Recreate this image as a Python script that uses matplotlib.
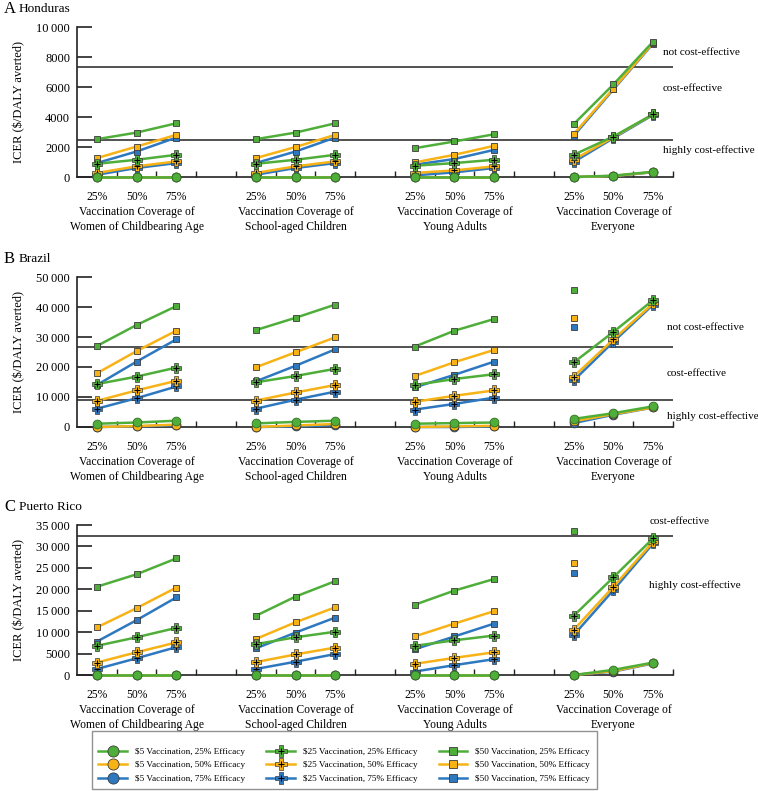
import numpy as np
import matplotlib
matplotlib.use("Agg")
import matplotlib.pyplot as plt
from matplotlib.lines import Line2D
from matplotlib.legend_handler import HandlerTuple
from matplotlib.ticker import FuncFormatter

nan = np.nan

groups = [("Vaccination Coverage of", "Women of Childbearing Age"),
          ("Vaccination Coverage of", "School-aged Children"),
          ("Vaccination Coverage of", "Young Adults"),
          ("Vaccination Coverage of", "Everyone")]
coverage = ["25%", "50%", "75%"]
costs = [5, 25, 50]
efficacies = [25, 50, 75]

# ICER values, 12 per series: 4 groups x (25%, 50%, 75% coverage)
hn_5 = {25: [0, 0, 0, 0, 0, 0, 0, 0, 0, 0, 90, 350],
        50: [0, 0, 0, 0, 0, 0, 0, 0, 0, 0, 70, 330],
        75: [0, 0, 0, 0, 0, 0, 0, 0, 0, 0, 60, 320]}
hn_25 = {25: [880, 1150, 1480, 880, 1150, 1480, 750, 930, 1150, 1480, 2700, 4180],
         50: [270, 710, 1040, 270, 710, 1040, 270, 440, 710, 1150, 2650, 4180],
         75: [150, 600, 930, 150, 600, 930, 110, 310, 600, 1000, 2590, 4140]}
hn_50 = {25: [2520, 2960, 3580, 2520, 2960, 3580, 1920, 2370, 2850, 3520, 6170, 9030],
         50: [1260, 2030, 2810, 1260, 2000, 2810, 970, 1480, 2080, 2850, 5900, 8940],
         75: [930, 1700, 2630, 930, 1700, 2630, 820, 1200, 1810, 2740, 5840, 8900]}

br_5 = {25: [1100, 1500, 2100, 1200, 1700, 2100, 1100, 1300, 1500, 2700, 4600, 6900],
        50: [0, 300, 800, 0, 500, 1000, 0, 200, 400, 1900, 4300, 6500],
        75: [0, 200, 600, 0, 200, 600, 0, 0, 200, 1300, 4100, 6500]}
br_25 = {25: [14300, 16800, 19800, 14900, 17000, 19400, 14000, 16000, 17600, 21500, 31700, 42300],
         50: [8700, 12200, 15400, 8800, 11500, 14000, 8400, 10400, 12200, 16800, 29200, 41200],
         75: [6100, 9600, 13500, 6100, 9100, 11800, 5800, 7700, 9800, 15500, 28400, 40800]}
br_50 = {25: [27000, 34000, 40300, 32300, 36400, 40800, 26800, 32100, 36000, 45600, nan, nan],
         50: [17900, 25300, 32100, 19900, 24900, 29900, 17000, 21600, 25700, 36500, nan, nan],
         75: [14000, 21800, 29200, 15200, 20400, 25900, 13200, 17400, 21800, 33200, nan, nan]}

pr_5 = {25: [0, 0, 0, 0, 0, 0, 0, 0, 0, 0, 1200, 2900],
        50: [0, 0, 0, 0, 0, 0, 0, 0, 0, 0, 900, 2800],
        75: [0, 0, 0, 0, 0, 0, 0, 0, 0, 0, 800, 2700]}
pr_25 = {25: [6800, 8800, 11000, 7200, 8800, 10100, 6800, 8100, 9200, 13800, 22800, 31900],
         50: [2900, 5300, 7600, 3000, 4800, 6400, 2600, 4000, 5300, 10500, 20600, 31100],
         75: [1400, 3900, 6500, 1400, 3100, 4900, 800, 2300, 3700, 9300, 19800, 30700]}
pr_50 = {25: [20600, 23500, 27200, 13800, 18300, 21900, 16400, 19700, 22400, 33700, nan, nan],
         50: [11100, 15600, 20400, 8400, 12300, 15800, 9000, 12000, 14900, 26200, nan, nan],
         75: [7800, 12800, 18100, 6200, 9900, 13400, 6000, 9000, 12000, 23900, nan, nan]}

hn_thresholds = [2450, 7350]
br_thresholds = [8850, 26550]
pr_thresholds = [32400]

countries = [
    ("A", "Honduras", {5: hn_5, 25: hn_25, 50: hn_50}, hn_thresholds, 10000, 2000,
     [("not cost-effective", 8270), ("cost-effective", 5930), ("highly cost-effective", 1800)], 14.75),
    ("B", "Brazil", {5: br_5, 25: br_25, 50: br_50}, br_thresholds, 50000, 10000,
     [("not cost-effective", 33000), ("cost-effective", 17700), ("highly cost-effective", 3700)], 14.85),
    ("C", "Puerto Rico", {5: pr_5, 25: pr_25, 50: pr_50}, pr_thresholds, 35000, 5000,
     [("cost-effective", 35700), ("highly cost-effective", 21000)], 14.4),
]

eff_colors = {25: "#4fae3a", 50: "#f7b316", 75: "#2e78c0"}
edge = "#3a3a3a"

plt.rcParams["font.family"] = ["Liberation Serif", "DejaVu Serif"]

W, H = 758, 791
fig = plt.figure(figsize=(W / 100, H / 100), dpi=100)

def fmt(v, pos):
    v = int(round(v))
    if v >= 10000:
        return f"{v:,}".replace(",", "\u2009")
    return str(v)

# axes boxes in pixels: (top, bottom)
boxes = [(27, 177), (277, 427), (525, 675)]
title_y = [9, 259, 507]
ax_left, ax_right = 77, 673

xs = np.array([[g * 4 + 0.5 + k for k in range(3)] for g in range(4)])

for (letter, name, data, thresholds, ymax, ystep, zones, zx), (top, bot), ty in zip(countries, boxes, title_y):
    ax = fig.add_axes([ax_left / W, 1 - bot / H, (ax_right - ax_left) / W, (bot - top) / H])
    ax.set_xlim(0, 15)
    ax.set_ylim(0, ymax)
    for s in ["top", "right"]:
        ax.spines[s].set_visible(False)
    for s in ["left", "bottom"]:
        ax.spines[s].set_linewidth(1.2)
        ax.spines[s].set_color("#222222")
    ax.set_yticks(np.arange(0, ymax + 1, ystep))
    ax.yaxis.set_major_formatter(FuncFormatter(fmt))
    ax.tick_params(axis="y", direction="in", length=11, width=1.2, labelsize=9, pad=5, color="#222222")
    ax.set_xticks(np.arange(1, 16))
    ax.set_xticklabels([])
    ax.tick_params(axis="x", which="major", direction="in", length=4, width=1.0, color="#222222")
    ax.set_xticks(xs.ravel(), minor=True)
    ax.set_xticklabels(coverage * 4, minor=True)
    ax.tick_params(axis="x", which="minor", length=0, labelsize=8.4, pad=10)
    ax.set_ylabel("ICER ($/DALY averted)", fontsize=9)
    ax.yaxis.set_label_coords(-0.087, 0.5)

    for t in thresholds:
        ax.axhline(t, color="#333333", lw=1.2, zorder=1)

    for label, yv in zones:
        ax.text(zx, yv, label, fontsize=8, va="center", ha="left", clip_on=False)

    for g, (l1, l2) in enumerate(groups):
        for line, off in [(l1, -25.2), (l2, -36)]:
            ax.annotate(line, xy=(xs[g, 1], 0), xycoords=("data", "axes fraction"),
                        xytext=(0, off), textcoords="offset points",
                        ha="center", va="center", fontsize=8.4,
                        annotation_clip=False)

    fig.text(4 / W, 1 - ty / H, letter, fontsize=12, va="center", ha="left")
    fig.text(19 / W, 1 - ty / H, name, fontsize=9.5, va="center", ha="left")

    for cost in [50, 25, 5]:
        for eff in [75, 50, 25]:
            vals = np.array(data[cost][eff], dtype=float).reshape(4, 3)
            c = eff_colors[eff]
            for g in range(4):
                if cost == 5:
                    ax.plot(xs[g], vals[g], color=c, lw=1.8, marker="o", ms=6.3,
                            mfc=c, mec="#2f6f22" if eff == 25 else edge, mew=0.6,
                            clip_on=False, zorder=5)
                elif cost == 25:
                    ax.plot(xs[g], vals[g], color=c, lw=1.8, marker="P", ms=7.5,
                            mfc=c, mec=edge, mew=0.5, clip_on=False, zorder=4)
                    ax.plot(xs[g], vals[g], ls="none", marker="+", ms=4.2, mec="black",
                            mew=0.8, clip_on=False, zorder=4)
                else:
                    ax.plot(xs[g], vals[g], color=c, lw=1.8, marker="s", ms=4.6,
                            mfc=c, mec=edge, mew=0.6, clip_on=False, zorder=3)

leg_handles, leg_labels = [], []
for cost in costs:
    for eff in efficacies:
        c = eff_colors[eff]
        if cost == 5:
            h = Line2D([], [], color=c, lw=1.8, marker="o", ms=8, mfc=c, mec=edge, mew=0.6)
        elif cost == 25:
            h = (Line2D([], [], color=c, lw=1.8, marker="P", ms=8, mfc=c, mec=edge, mew=0.5),
                 Line2D([], [], ls="none", marker="+", ms=4.5, mec="black", mew=0.8))
        else:
            h = Line2D([], [], color=c, lw=1.8, marker="s", ms=5.5, mfc=c, mec=edge, mew=0.6)
        leg_handles.append(h)
        leg_labels.append(f"${cost} Vaccination, {eff}% Efficacy")

leg = fig.legend(leg_handles, leg_labels, ncol=3, loc="upper left",
                 bbox_to_anchor=(92 / W, 1 - 731 / H), fontsize=6.6,
                 title=" ", title_fontsize=5,
                 handlelength=3.1, handletextpad=0.9, columnspacing=2.3,
                 labelspacing=0.55, borderpad=0.7, borderaxespad=0,
                 fancybox=False, edgecolor="#777777",
                 handler_map={tuple: HandlerTuple(ndivide=1)})
leg.get_frame().set_linewidth(1.0)

fig.savefig("out.png", dpi=100)
